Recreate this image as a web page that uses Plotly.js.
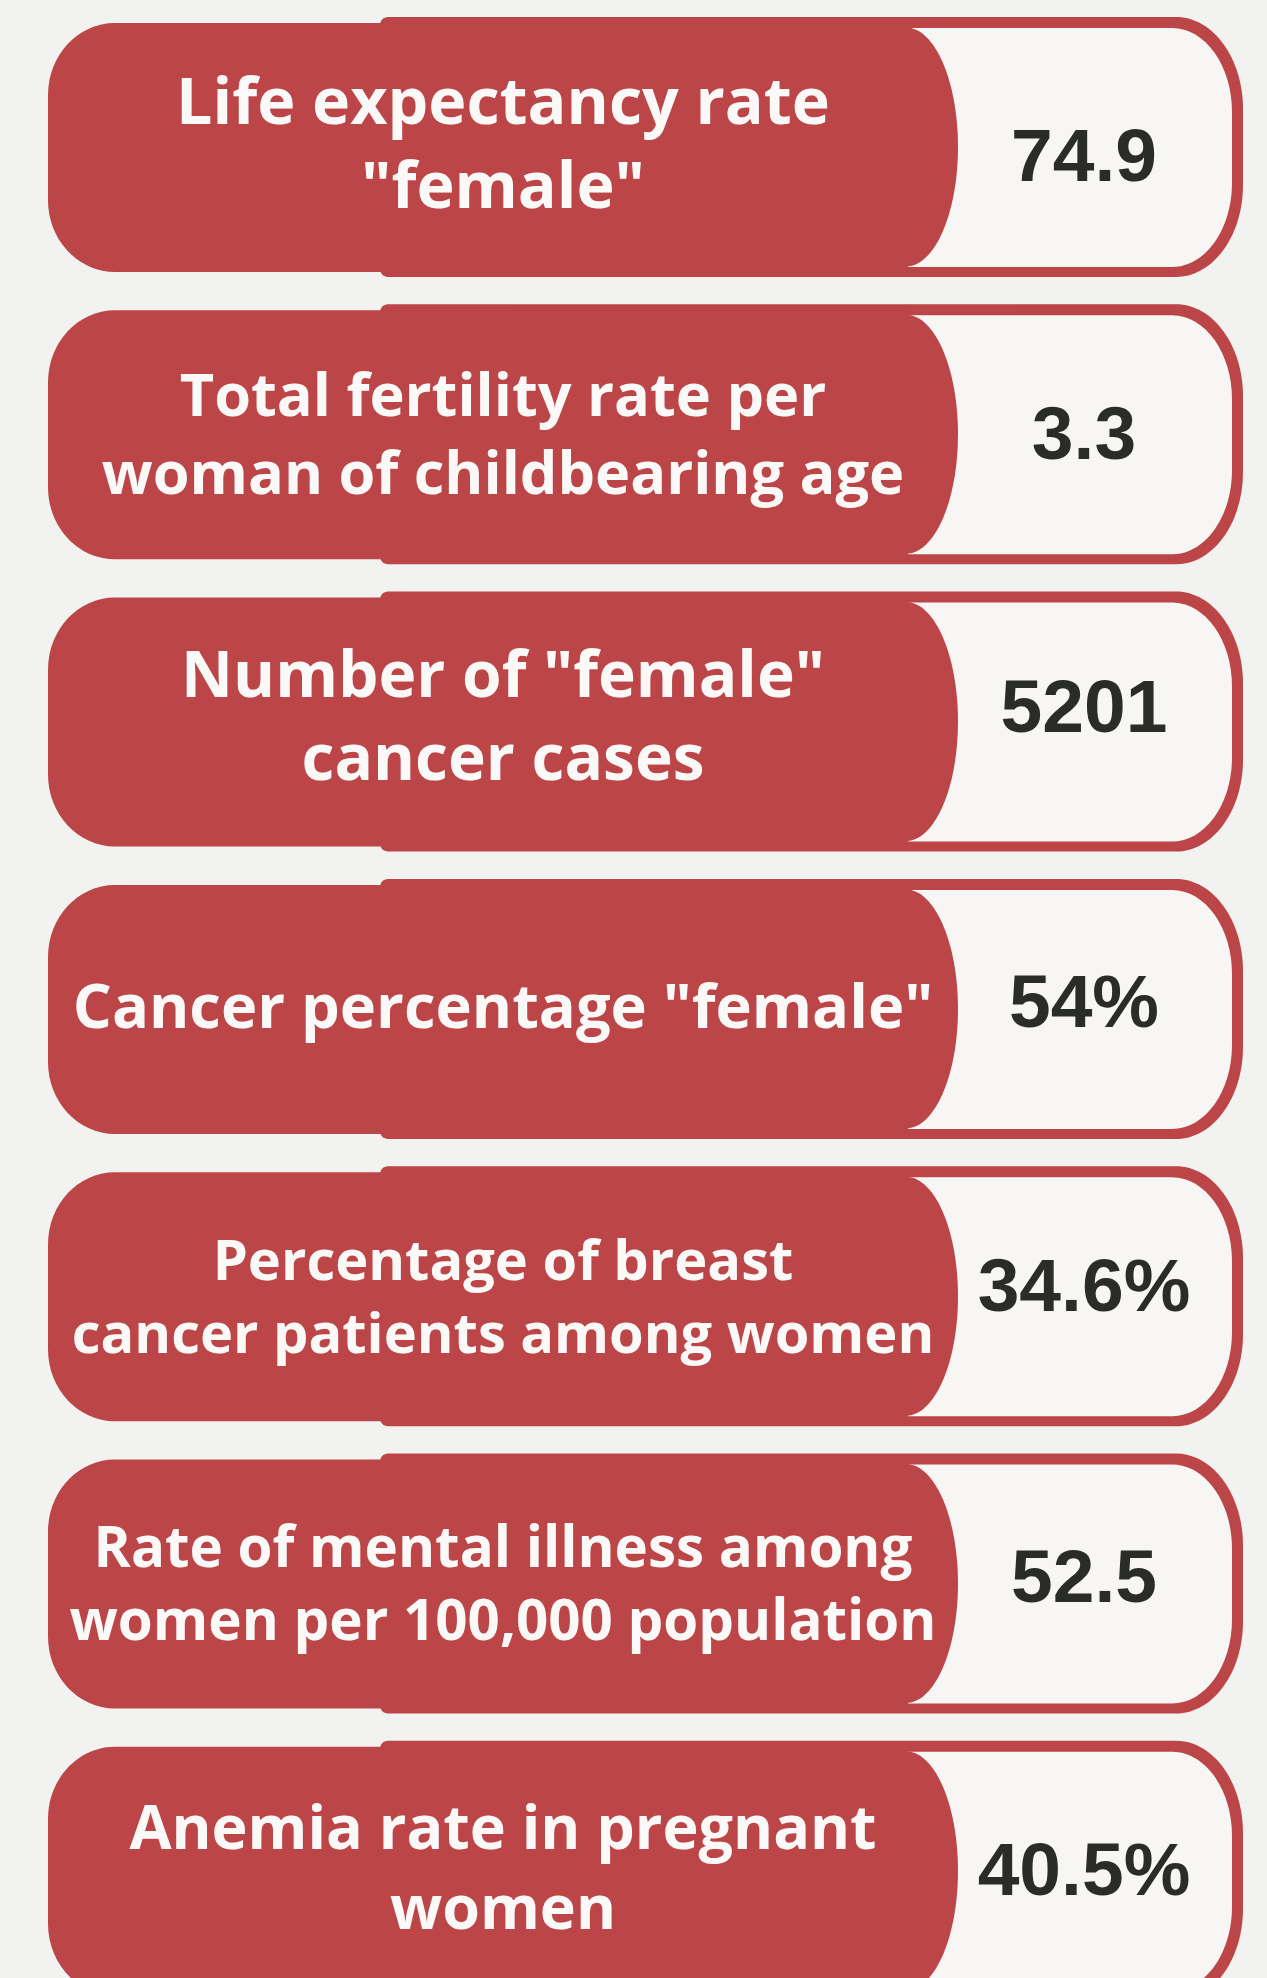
<!DOCTYPE html>
<html>
<head>
<meta charset="utf-8">
<script src="https://cdn.plot.ly/plotly-3.0.1.min.js"></script>
<style>
html, body { margin: 0; padding: 0; background: #f2f2f0; }
#chart { width: 1267px; height: 1978px; }
</style>
</head>
<body>
<div id="chart"></div>
<script>
// ---- data ----
const categories = [
  'Life expectancy rate<br>"female"',
  'Total fertility rate per<br>woman of childbearing age',
  'Number of "female"<br>cancer cases',
  'Cancer percentage "female"',
  'Percentage of breast<br>cancer patients among women',
  'Rate of mental illness among<br>women per 100,000 population',
  'Anemia rate in pregnant<br>women'
];
const values = [74.9, 3.3, 5201, 54, 34.6, 52.5, 40.5];
const units = ['', '', '', '%', '%', '', '%'];

// ---- style ----
const W = 1267, H = 1978;
const RED = '#bb4547';
const WHITE_IN = '#f7f6f4';
const BG = '#f2f2f0';
const labelFontSizes = [64.5, 59.5, 64, 61.4, 56, 56.5, 61];
const labelCenters = [133, 136, 131, 134, 136, 136, 133];
const valueCenters = [145, 136, 122, 129, 126, 130, 135];
const firstTop = 17, pitch = 287.3, cardH = 260;
const labelX = 503, valueX = 1084;

const K = 0.5523;
function rrect(x0, y0, x1, y1, lrx, lry, rrx, rry) {
  return [
    'M', x0 + lrx, y0,
    'L', x1 - rrx, y0,
    'C', x1 - rrx + K * rrx, y0, x1, y0 + rry - K * rry, x1, y0 + rry,
    'L', x1, y1 - rry,
    'C', x1, y1 - rry + K * rry, x1 - rrx + K * rrx, y1, x1 - rrx, y1,
    'L', x0 + lrx, y1,
    'C', x0 + lrx - K * lrx, y1, x0, y1 - lry + K * lry, x0, y1 - lry,
    'L', x0, y0 + lry,
    'C', x0, y0 + lry - K * lry, x0 + lrx - K * lrx, y0, x0 + lrx, y0,
    'Z'
  ].join(' ');
}
function halfEllipse(cx, cy, rx, ry) {
  return [
    'M', cx, cy - ry,
    'C', cx + K * rx, cy - ry, cx + rx, cy - K * ry, cx + rx, cy,
    'C', cx + rx, cy + K * ry, cx + K * rx, cy + ry, cx, cy + ry,
    'Z'
  ].join(' ');
}

const shapes = [];
const labX = [], labY = [];
const valX = [], valY = [], valT = [];

categories.forEach((cat, i) => {
  const t = firstTop + i * pitch;
  const b = t + cardH;
  shapes.push({type: 'path', layer: 'below', line: {width: 0}, fillcolor: RED,
    path: rrect(380, t, 1243, b, 8, 8, 67, 92)});
  shapes.push({type: 'path', layer: 'below', line: {width: 0}, fillcolor: WHITE_IN,
    path: rrect(900, t + 11, 1232, b - 10, 1, 1, 60, 84)});
  shapes.push({type: 'path', layer: 'below', line: {width: 0}, fillcolor: RED,
    path: halfEllipse(906, t + 130, 52, 119.5)});
  shapes.push({type: 'path', layer: 'below', line: {width: 0}, fillcolor: RED,
    path: rrect(48, t + 6, 908, b - 5, 67, 72, 1, 1)});

  labX.push(labelX);
  labY.push(t + labelCenters[i]);
  valX.push(valueX);
  valY.push(t + valueCenters[i]);
  valT.push(String(values[i]) + units[i]);
});

const traces = [
  {
    type: 'scatter', mode: 'text', x: labX, y: labY, text: categories,
    textposition: 'middle center', hoverinfo: 'skip', showlegend: false,
    textfont: {family: 'Open Sans, Noto Sans, sans-serif', weight: 700, size: labelFontSizes, color: '#fbf9f8'}
  },
  {
    type: 'scatter', mode: 'text', x: valX, y: valY, text: valT,
    textposition: 'middle center', hoverinfo: 'skip', showlegend: false,
    textfont: {family: 'Liberation Sans, Arial, sans-serif', weight: 700, size: 75, color: '#2a2c28'}
  }
];

const layout = {
  width: W, height: H,
  margin: {l: 0, r: 0, t: 0, b: 0},
  paper_bgcolor: BG, plot_bgcolor: BG,
  xaxis: {range: [0, W], visible: false, fixedrange: true},
  yaxis: {range: [H, 0], visible: false, fixedrange: true},
  shapes: shapes,
  showlegend: false
};

Plotly.newPlot('chart', traces, layout, {displayModeBar: false, staticPlot: true});
</script>
</body>
</html>
